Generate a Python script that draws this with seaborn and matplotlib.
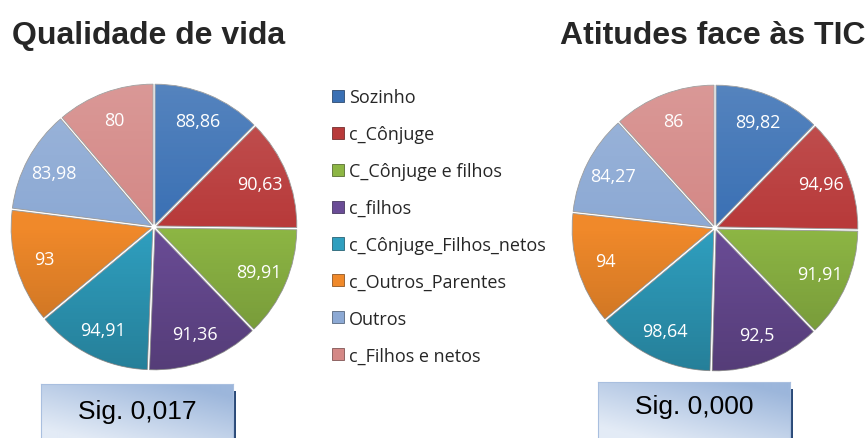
import numpy as np
import matplotlib
matplotlib.use("Agg")
import matplotlib.pyplot as plt
from matplotlib.patches import Patch
from matplotlib.colors import to_rgb
import seaborn as sns

# ---- data ----
categorias = ["Sozinho", "c_Cônjuge", "C_Cônjuge e filhos", "c_filhos",
              "c_Cônjuge_Filhos_netos", "c_Outros_Parentes", "Outros",
              "c_Filhos e netos"]
qualidade_vida = [88.86, 90.63, 89.91, 91.36, 94.91, 93, 83.98, 80]
atitudes_tic = [89.82, 94.96, 91.91, 92.5, 98.64, 94, 84.27, 86]
titulos = ["Qualidade de vida", "Atitudes face às TIC"]
significancia = ["Sig. 0,017", "Sig. 0,000"]

cores = ["#3A70B4", "#B83A3A", "#8DB644", "#6A4C96",
         "#2F9FBF", "#F0892A", "#8CA9D4", "#D48886"]

sns.set_theme(style="white")
sns.set_palette(cores)
plt.rcParams["font.family"] = ["Open Sans", "DejaVu Sans"]

W, H = 866, 439
fig = plt.figure(figsize=(W / 100, H / 100), dpi=100)
fig.patch.set_facecolor("white")


def px_axes(x0, y0, w, h, **kw):
    """Axes placed by pixel box (top-left origin)."""
    return fig.add_axes([x0 / W, 1 - (y0 + h) / H, w / W, h / H], **kw)


def fmt(v):
    return f"{v:g}".replace(".", ",")


def lighting_overlay(ax, wedge):
    # soft top-light / bottom-shade gradient clipped to the wedge
    n = 200
    t = np.linspace(1, 0, n)[:, None] * np.ones((1, 2))
    img = np.zeros((n, 2, 4))
    light = np.clip((t - 0.5) * 2, 0, 1)
    dark = np.clip((0.5 - t) * 2, 0, 1)
    img[..., :3] = np.where(light[..., None] > 0, 1.0, 0.0)
    img[..., 3] = light * 0.14 + dark * 0.2
    im = ax.imshow(img, extent=[-1, 1, -1, 1], aspect="auto",
                   interpolation="bilinear", zorder=3)
    im.set_clip_path(wedge)


def draw_pie(center, valores, titulo, title_x):
    cx, cy = center
    R = 143
    ax = px_axes(cx - R, cy - R, 2 * R, 2 * R)
    ax.axis("off")
    wedges, _ = ax.pie(valores, startangle=90, counterclock=False,
                       colors=cores, radius=0.98,
                       explode=[0.02] * len(valores),
                       wedgeprops=dict(edgecolor="#9a9a9a", linewidth=0.6))
    for w, v in zip(wedges, valores):
        lighting_overlay(ax, w)
        ang = np.deg2rad((w.theta1 + w.theta2) / 2)
        r = 0.78
        x = w.center[0] + r * np.cos(ang)
        y = w.center[1] + r * np.sin(ang)
        ax.text(x, y, fmt(v), color="white", fontsize=13,
                ha="center", va="center", zorder=5)
    ax.set_xlim(-1, 1)
    ax.set_ylim(-1, 1)
    ax.set_aspect("equal")
    fig.text(title_x / W, 1 - 44 / H, titulo, fontsize=23, fontweight="bold",
             family=["Liberation Sans", "DejaVu Sans"],
             ha="left", va="baseline")
    return wedges


def sig_box(x0, y0, w, h, texto, ty):
    # drop shadow on the right edge
    sh = px_axes(x0 + 3, y0 + 7, w, h)
    sh.set_facecolor("#2b4a78")
    sh.set_xticks([]); sh.set_yticks([])
    for s in sh.spines.values():
        s.set_visible(False)
    box = px_axes(x0, y0, w, h)
    box.set_xticks([]); box.set_yticks([])
    gx = np.linspace(0, 1, 120)[None, :]
    gy = np.linspace(1, 0, 60)[:, None]
    t = np.clip(0.6 * gx + 0.75 * gy - 0.2, 0, 1)
    c0 = np.array(to_rgb("#e3ebf6"))
    c1 = np.array(to_rgb("#9cb6db"))
    img = c0[None, None, :] * (1 - t[..., None]) + c1[None, None, :] * t[..., None]
    box.imshow(img, extent=[0, 1, 0, 1], aspect="auto", interpolation="bilinear")
    box.set_xlim(0, 1); box.set_ylim(0, 1)
    for s in box.spines.values():
        s.set_color("#a9bfdf")
        s.set_linewidth(0.8)
    fig.text((x0 + w / 2) / W, 1 - ty / H, texto, fontsize=19,
             family=["Liberation Sans", "DejaVu Sans"],
             ha="center", va="center", color="black")


draw_pie((154, 228), qualidade_vida, titulos[0], 12)
draw_pie((715, 229), atitudes_tic, titulos[1], 560)

# legend between the two pies
handles = [Patch(facecolor=c, edgecolor=sns.dark_palette(c, 3)[1], linewidth=0.6)
           for c in cores]
fig.legend(handles, categorias, loc="upper left",
           bbox_to_anchor=(332 / W, 1 - 89 / H), frameon=False,
           fontsize=13, handlelength=0.65, handleheight=0.65,
           handletextpad=0.28, labelspacing=1.05, borderpad=0,
           borderaxespad=0)

sig_box(41, 385, 192, 60, significancia[0], 412)
sig_box(598, 383, 192, 60, significancia[1], 407)

fig.savefig("out.png", dpi=100, facecolor="white")
